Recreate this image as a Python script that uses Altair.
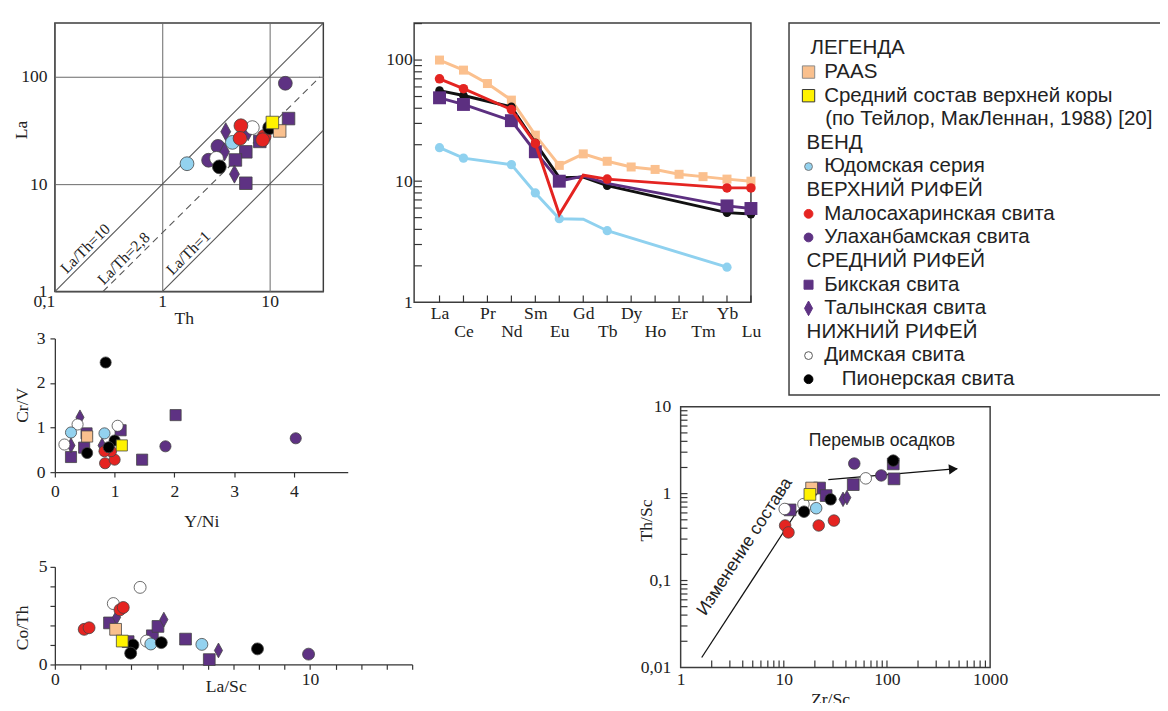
import altair as alt
import pandas as pd

SERIF = 'Liberation Serif'
SANS = 'Liberation Sans'
INK = '#222222'
FRAME = '#3c3c3c'
DIAMOND = 'M0,-1L0.55,0L0,1L-0.55,0Z'
NB = '\u00a0'

# ---------------- data ----------------
GROUP_ORDER = ['Ula', 'Bik', 'Tal', 'Dim', 'Yud', 'Mal', 'Pio', 'PAAS', 'UCC']
GROUP_FILL = {'PAAS': '#f9c08e', 'UCC': '#fff200', 'Yud': '#93d2ef', 'Mal': '#e52421',
              'Ula': '#5e3283', 'Bik': '#5e3283', 'Tal': '#5e3283', 'Dim': '#ffffff', 'Pio': '#000000'}
GROUP_SHAPE = {'PAAS': 'square', 'UCC': 'square', 'Yud': 'circle', 'Mal': 'circle',
               'Ula': 'circle', 'Bik': 'square', 'Tal': DIAMOND, 'Dim': 'circle', 'Pio': 'circle'}

# La vs Th
LATH_X = {'PAAS': [12.4], 'UCC': [10.6], 'Yud': [1.7, 4.5], 'Mal': [5.4, 5.3, 8.9, 8.6],
          'Ula': [14.0, 3.3, 2.7], 'Bik': [15.0, 8.1, 6.0, 4.8, 6.0], 'Tal': [6.3, 3.9, 3.8, 4.7],
          'Dim': [6.9, 3.2], 'Pio': [10.0, 3.4]}
LATH_Y = {'PAAS': [31.3], 'UCC': [37.5], 'Yud': [15.5, 24.5], 'Mal': [35.0, 26.7, 27.8, 25.9],
          'Ula': [87.0, 22.5, 16.7], 'Bik': [40.8, 25.0, 20.0, 16.8, 10.2], 'Tal': [30.8, 30.8, 20.0, 12.4],
          'Dim': [33.6, 17.4], 'Pio': [33.6, 14.5]}
RATIO_NAMES = ['La/Th=10', 'La/Th=2,8', 'La/Th=1']
RATIO_TH = [[0.1, 31.62], [0.28, 29.5], [1.0, 31.62]]
RATIO_LA = [[1.0, 316.2], [1.0, 100.0], [1.0, 31.62]]
RATIO_LABEL_TH = [0.22, 0.5, 2.0]
RATIO_LABEL_LA = [2.2, 1.78, 2.0]

# Cr/V vs Y/Ni
CRV_X = {'PAAS': [0.54], 'UCC': [1.12], 'Yud': [0.27, 0.83], 'Mal': [0.84, 1.0, 0.94, 0.83],
         'Ula': [4.03, 1.85], 'Bik': [2.02, 1.46, 1.1, 0.53, 0.27, 0.49], 'Tal': [0.42, 0.27, 0.79],
         'Dim': [1.05, 0.38, 0.16], 'Pio': [0.85, 1.0, 0.9, 0.54]}
CRV_Y = {'PAAS': [0.8], 'UCC': [0.6], 'Yud': [0.89, 0.87], 'Mal': [0.2, 0.28, 0.47, 0.47],
         'Ula': [0.76, 0.58], 'Bik': [1.28, 0.28, 0.94, 0.87, 0.34, 0.55], 'Tal': [1.23, 0.6, 0.6],
         'Dim': [1.04, 1.07, 0.62], 'Pio': [2.46, 0.71, 0.56, 0.43]}

# Co/Th vs La/Sc
COTH_X = {'PAAS': [2.38], 'UCC': [2.64], 'Yud': [3.76, 5.76], 'Mal': [1.15, 1.34, 2.55, 2.68],
          'Ula': [9.94], 'Bik': [2.14, 2.87, 3.82, 4.04, 5.12, 6.05], 'Tal': [2.42, 4.27, 6.41],
          'Dim': [2.29, 3.34, 3.59], 'Pio': [3.06, 2.97, 4.17, 7.94]}
COTH_Y = {'PAAS': [1.8], 'UCC': [1.2], 'Yud': [1.05, 1.03], 'Mal': [1.8, 1.88, 2.8, 2.92],
          'Ula': [0.53], 'Bik': [2.13, 1.17, 1.47, 1.95, 1.3, 0.25], 'Tal': [2.42, 2.3, 0.72],
          'Dim': [3.12, 3.95, 1.2], 'Pio': [1.0, 0.58, 1.12, 0.8]}

# Th/Sc vs Zr/Sc
THSC_X = {'PAAS': [18.6], 'UCC': [17.9], 'Yud': [20.6], 'Mal': [10.3, 11.1, 21.8, 30.6],
          'Ula': [48.2, 88.0], 'Bik': [11.5, 22.2, 25.7, 47.1, 117.0, 115.0], 'Tal': [37.5, 40.9],
          'Dim': [10.2, 15.5, 62.3], 'Pio': [15.7, 18.6, 28.4, 115.0]}
THSC_Y = {'PAAS': [1.16], 'UCC': [0.98], 'Yud': [0.68], 'Mal': [0.43, 0.358, 0.43, 0.49],
          'Ula': [2.22, 1.62], 'Bik': [0.65, 1.16, 0.95, 1.27, 1.48, 2.2], 'Tal': [0.86, 0.9],
          'Dim': [0.666, 0.757, 1.5], 'Pio': [0.62, 1.05, 0.86, 2.4]}
ARROW_ZR = [[1.6, 13.6], [27.0, 480.0]]
ARROW_TH = [[0.013, 0.64], [1.45, 1.94]]
HEAD_ZR = [440.0]
HEAD_TH = [1.92]
NOTE_TEXT = ['Перемыв осадков', 'Изменение состава']
NOTE_ZR = [89.5, 4.2]
NOTE_TH = [4.03, 0.245]

# REE spider diagram
REE = ['La', 'Ce', 'Pr', 'Nd', 'Sm', 'Eu', 'Gd', 'Tb', 'Dy', 'Ho', 'Er', 'Tm', 'Yb', 'Lu']
PAAS_REE = [100, 82.6, 64, 46.7, 24, 13.5, 16.8, 14.6, 13.1, 12.5, 11.4, 10.9, 10.4, 10.0]
NINE_EL = ['La', 'Ce', 'Nd', 'Sm', 'Eu', 'Gd', 'Tb', 'Yb', 'Lu']
MAL_REE = [70, 58, 39, 20.5, 5.3, 11.2, 10.4, 8.8, 8.8]
PIO_REE = [55.9, 51, 41, 20.7, 10.7, 10.8, 9.2, 5.5, 5.35]
BIK_REE = [48.8, 43, 31.6, 17.5, 10.0, 11.0, 9.6, 6.25, 5.95]
YUD_EL = ['La', 'Ce', 'Nd', 'Sm', 'Eu', 'Gd', 'Tb', 'Yb']
YUD_REE = [18.9, 15.5, 13.7, 8.0, 4.9, 4.85, 3.9, 1.95]
MAL_MK = ['La', 'Ce', 'Nd', 'Sm', 'Tb', 'Yb', 'Lu']
PIO_MK = ['La', 'Ce', 'Nd', 'Sm', 'Tb', 'Yb', 'Lu']
BIK_MK = ['La', 'Ce', 'Nd', 'Sm', 'Eu', 'Yb', 'Lu']
YUD_MK = ['La', 'Ce', 'Nd', 'Sm', 'Eu', 'Tb', 'Yb']

# legend
LEG_TEXT = ['ЛЕГЕНДА', 'PAAS', 'Средний состав верхней коры', '(по Тейлор, МакЛеннан, 1988) [20]',
            'ВЕНД', 'Юдомская серия', 'ВЕРХНИЙ РИФЕЙ', 'Малосахаринская свита', 'Улаханбамская свита',
            'СРЕДНИЙ РИФЕЙ', 'Бикская свита', 'Талынская свита', 'НИЖНИЙ РИФЕЙ', 'Димская свита',
            'Пионерская свита']
LEG_KIND = ['title', 'PAAS', 'UCC', 'cont', 'head', 'Yud', 'head', 'Mal', 'Ula', 'head', 'Bik', 'Tal',
            'head', 'Dim', 'Pio']

COMMA = "replace(format(datum.value, '~g'), '.', ',')"
AXF = 18


def frame_view():
    return alt.ViewBackground(stroke=FRAME, strokeWidth=1.5)


def no_frame():
    return alt.ViewBackground(stroke='transparent')


def ghost(px, py):
    # invisible 1px rule used only to fix the layout bounds of a panel
    return alt.Chart(pd.DataFrame({'v': [0]})).mark_rule(color='white', opacity=0, strokeWidth=1).encode(
        x=alt.value(px), x2=alt.value(px + 1), y=alt.value(py), y2=alt.value(py + 1))


def scatter(xd, yd, xs, ys, ax, ay, sizes):
    rows = []
    for g in GROUP_ORDER:
        shape = GROUP_SHAPE[g]
        kind = 'diamond' if shape == DIAMOND else shape
        for x, y in zip(xd[g], yd[g]):
            rows.append({'x': x, 'y': y, 'fill': GROUP_FILL[g], 'shape': shape, 'size': sizes[kind]})
    df = pd.DataFrame(rows)
    return alt.Chart(df).mark_point(filled=True, opacity=1, stroke='#444444', strokeWidth=0.8).encode(
        x=alt.X('x:Q', scale=xs, axis=ax),
        y=alt.Y('y:Q', scale=ys, axis=ay),
        fill=alt.Fill('fill:N', scale=None),
        shape=alt.Shape('shape:N', scale=None),
        size=alt.Size('size:Q', scale=None),
    )


def log_minors(decades):
    out = []
    for d in decades:
        out += [d * k for k in range(2, 10)]
    return out


def spacer(w, h, gx=None, gy=None):
    base = alt.Chart(pd.DataFrame({'v': [0]})).mark_point(opacity=0).encode(x=alt.value(0), y=alt.value(0))
    if gx is not None:
        return alt.layer(base, ghost(gx, gy)).properties(width=w, height=h, view=no_frame())
    return base.properties(width=w, height=h, view=no_frame())


# ---------------- panel 1: La vs Th ----------------
W1, H1 = 275, 275
xs1 = alt.Scale(type='log', domain=[0.1, 31.62], nice=False)
ys1 = alt.Scale(type='log', domain=[1, 316.2], nice=False)
ax1x = alt.Axis(values=[0.1, 1, 10], grid=True, gridColor='#666666', gridWidth=1, ticks=False, tickSize=0,
                domain=False, labelPadding=1, labelOverlap=False, labelFlush=False,
                labelExpr="datum.value < 0.5 ? '0,1" + NB * 2 + "' : " + COMMA,
                labelAlign={'condition': {'test': 'datum.value < 0.5', 'value': 'right'}, 'value': 'center'},
                title='Th', titleX=132, titleY=28, titleBaseline='middle', titleAlign='center')
ax1y = alt.Axis(values=[1, 10, 100], grid=True, gridColor='#666666', gridWidth=1, ticks=False, tickSize=0,
                domain=False, labelPadding=8, labelOverlap=False, labelExpr=COMMA,
                title='La', titleX=-34, titleY=109, titleAngle=270, titleBaseline='middle', titleAlign='center')
rat_rows = []
for i, name in enumerate(RATIO_NAMES):
    for x, y in zip(RATIO_TH[i], RATIO_LA[i]):
        rat_rows.append({'x': x, 'y': y, 'id': name})
rat_df = pd.DataFrame(rat_rows)
solid = alt.Chart(rat_df).transform_filter("datum.id != 'La/Th=2,8'").mark_line(
    color='#555555', strokeWidth=1.1).encode(
    x=alt.X('x:Q', scale=xs1, axis=ax1x), y=alt.Y('y:Q', scale=ys1, axis=ax1y), detail='id:N')
dashed = alt.Chart(rat_df).transform_filter("datum.id == 'La/Th=2,8'").mark_line(
    color='#555555', strokeWidth=1.1, strokeDash=[7, 5]).encode(
    x=alt.X('x:Q', scale=xs1, axis=ax1x), y=alt.Y('y:Q', scale=ys1, axis=ax1y))
rat_lab = alt.Chart(pd.DataFrame({'x': RATIO_LABEL_TH, 'y': RATIO_LABEL_LA, 't': RATIO_NAMES})).mark_text(
    font=SERIF, fontSize=16, angle=315, baseline='bottom', align='center', color=INK, dy=-1).encode(
    x=alt.X('x:Q', scale=xs1, axis=ax1x), y=alt.Y('y:Q', scale=ys1, axis=ax1y), text='t:N')
p1 = alt.layer(
    solid, dashed, rat_lab,
    scatter(LATH_X, LATH_Y, xs1, ys1, ax1x, ax1y, {'circle': 200, 'square': 165, 'diamond': 340}),
    ghost(-47, -37),
).properties(width=W1, height=H1, view=frame_view())

# ---------------- panel 4: Cr/V vs Y/Ni ----------------
W4, H4 = 300, 137
xs4 = alt.Scale(domain=[0, 4.9], nice=False, zero=False)
ys4 = alt.Scale(domain=[0, 3], nice=False)
ax4x = alt.Axis(values=[0, 1, 2, 3, 4], grid=False, tickSize=5, labelPadding=6, labelOverlap=False, labelFlush=False,
                title='Y/Ni', titleX=150, titleY=51, titleBaseline='middle', titleAlign='center')
ax4y = alt.Axis(values=[0, 1, 2, 3], grid=False, tickSize=5, labelPadding=5, labelOverlap=False,
                title='Cr/V', titleX=-33, titleY=68, titleAngle=270, titleBaseline='middle', titleAlign='center')
p4 = scatter(CRV_X, CRV_Y, xs4, ys4, ax4x, ax4y, {'circle': 130, 'square': 130, 'diamond': 230}).properties(
    width=W4, height=H4, view=no_frame())

# ---------------- panel 5: Co/Th vs La/Sc ----------------
W5, H5 = 366, 100
xs5 = alt.Scale(domain=[0, 14], nice=False, zero=False)
ys5 = alt.Scale(domain=[0, 5], nice=False)
ax5x = alt.Axis(values=list(range(15)), grid=False, tickSize=5, labelPadding=2, labelOverlap=False, labelFlush=False,
                labelExpr="datum.value == 0 || datum.value == 10 ? datum.label : ''",
                title='La/Sc', titleX=175, titleY=23, titleBaseline='middle', titleAlign='center')
ax5y = alt.Axis(values=[0, 1, 2, 3, 4, 5], grid=False, tickSize=5, labelPadding=3, labelOverlap=False,
                labelExpr="datum.value == 0 || datum.value == 5 ? datum.label : ''",
                title='Co/Th', titleX=-33, titleY=62, titleAngle=270, titleBaseline='middle', titleAlign='center')
p5 = scatter(COTH_X, COTH_Y, xs5, ys5, ax5x, ax5y, {'circle': 150, 'square': 145, 'diamond': 230}).properties(
    width=W5, height=H5, view=no_frame())

# ---------------- panel 2: REE ----------------
W2, H2 = 345, 286
xs2 = alt.Scale(domain=[-1.06, 13], nice=False, zero=False)
ys2 = alt.Scale(type='log', domain=[1, 202], nice=False)
ree_arr = '[' + ','.join("'" + e + "'" for e in REE) + ']'
ree_expr = 'datum.value % 2 == 0 ? ' + ree_arr + '[datum.value] : [\'\', ' + ree_arr + '[datum.value]]'
ax2x = alt.Axis(values=list(range(len(REE))), grid=False, ticks=False, tickSize=0, domain=False,
                labelPadding=3, labelOverlap=False, labelFlush=False, labelLineHeight=18, labelExpr=ree_expr,
                title=None)
ax2y = alt.Axis(values=[1, 10, 100], grid=False, ticks=False, tickSize=0, domain=False, labelPadding=2,
                labelOverlap=False, labelExpr=COMMA, title=None)
ree_xt = alt.Chart(pd.DataFrame({'x': list(range(len(REE)))})).mark_rule(color='#333333', strokeWidth=1.2).encode(
    x=alt.X('x:Q', scale=xs2, axis=ax2x), y=alt.value(H2), y2=alt.value(H2 - 7))
ree_yt = alt.Chart(pd.DataFrame({'y': log_minors([1, 10]) + [10, 100, 200]})).mark_rule(
    color='#333333', strokeWidth=1.2).encode(
    y=alt.Y('y:Q', scale=ys2, axis=ax2y), x=alt.value(0), x2=alt.value(8))
ree_series = [
    ('PAAS', REE, PAAS_REE, REE, '#fbc08e', 'square', 85),
    ('Yud', YUD_EL, YUD_REE, YUD_MK, '#8fd1ef', 'circle', 90),
    ('Pio', NINE_EL, PIO_REE, PIO_MK, '#111111', 'circle', 80),
    ('Bik', NINE_EL, BIK_REE, BIK_MK, '#5c2f80', 'square', 175),
    ('Mal', NINE_EL, MAL_REE, MAL_MK, '#e42421', 'circle', 95),
]
ree_layers = [ree_xt, ree_yt]
for name, els, vals, mk, col, shp, sz in ree_series:
    df = pd.DataFrame({'x': [REE.index(e) for e in els], 'y': vals, 'mk': [e in mk for e in els]})
    ree_layers.append(alt.Chart(df).mark_line(color=col, strokeWidth=3).encode(
        x=alt.X('x:Q', scale=xs2, axis=ax2x), y=alt.Y('y:Q', scale=ys2, axis=ax2y)))
    ree_layers.append(alt.Chart(df).transform_filter('datum.mk').mark_point(
        filled=True, opacity=1, color=col, shape=shp, size=sz).encode(
        x=alt.X('x:Q', scale=xs2, axis=ax2x), y=alt.Y('y:Q', scale=ys2, axis=ax2y)))
ree_layers.append(ghost(-40, -30))
p2 = alt.layer(*ree_layers).properties(width=W2, height=H2, view=frame_view())

# ---------------- panel 3: legend ----------------
W3, H3 = 387, 381
LEG_TX = {'title': 22, 'head': 18, 'cont': 37, 'Pio': 54}
LEG_MARK = {'PAAS': ('#f9c08e', 'square', 160, '#888888'), 'UCC': ('#fff200', 'square', 160, '#333333'),
            'Yud': ('#93d2ef', 'circle', 64, '#777777'), 'Mal': ('#e52421', 'circle', 81, '#e52421'),
            'Ula': ('#5e3283', 'circle', 81, '#5e3283'), 'Bik': ('#5e3283', 'square', 85, '#5e3283'),
            'Tal': ('#5e3283', DIAMOND, 225, '#5e3283'), 'Dim': ('#ffffff', 'circle', 64, '#555555'),
            'Pio': ('#000000', 'circle', 81, '#000000')}
leg_rows = []
for i, (t, k) in enumerate(zip(LEG_TEXT, LEG_KIND)):
    leg_rows.append({'row': i, 'label': t, 'tx': LEG_TX.get(k, 36)})
leg_df = pd.DataFrame(leg_rows)
mk_rows = []
for i, k in enumerate(LEG_KIND):
    if k in LEG_MARK:
        f, s, sz, st = LEG_MARK[k]
        mk_rows.append({'row': i, 'tx': 20, 'fill': f, 'shape': s, 'size': sz, 'stroke': st})
mk_df = pd.DataFrame(mk_rows)
xs3 = alt.Scale(domain=[0, W3], nice=False, zero=False)
ys3 = alt.Scale(domain=[-1.074, 14.67], reverse=True, nice=False, zero=False)
leg_text = alt.Chart(leg_df).mark_text(align='left', baseline='middle', font=SANS, fontSize=21, color=INK).encode(
    x=alt.X('tx:Q', scale=xs3, axis=None), y=alt.Y('row:Q', scale=ys3, axis=None), text='label:N')
leg_mark = alt.Chart(mk_df).mark_point(filled=True, opacity=1, strokeWidth=1).encode(
    x=alt.X('tx:Q', scale=xs3, axis=None), y=alt.Y('row:Q', scale=ys3, axis=None),
    fill=alt.Fill('fill:N', scale=None), shape=alt.Shape('shape:N', scale=None),
    size=alt.Size('size:Q', scale=None), stroke=alt.Stroke('stroke:N', scale=None))
p3 = alt.layer(leg_text, leg_mark).properties(width=W3, height=H3, view=frame_view())

# ---------------- panel 6: Th/Sc vs Zr/Sc ----------------
W6, H6 = 317, 267
xs6 = alt.Scale(type='log', domain=[1, 1000], nice=False)
ys6 = alt.Scale(type='log', domain=[0.01, 10], nice=False)
ax6x = alt.Axis(values=[1, 10, 100, 1000], grid=False, ticks=False, tickSize=0, domain=False, labelPadding=3,
                labelOverlap=False, labelFlush=False, labelExpr=COMMA,
                title='Zr/Sc', titleX=153, titleY=33, titleBaseline='middle', titleAlign='center')
ax6y = alt.Axis(values=[0.01, 0.1, 1, 10], grid=False, ticks=False, tickSize=0, domain=False, labelPadding=10,
                labelOverlap=False, labelExpr=COMMA,
                title='Th/Sc', titleX=-35, titleY=116, titleAngle=270, titleBaseline='middle', titleAlign='center')
t6x = alt.Chart(pd.DataFrame({'x': log_minors([1, 10, 100]) + [10, 100]})).mark_rule(
    color='#333333', strokeWidth=1.2).encode(
    x=alt.X('x:Q', scale=xs6, axis=ax6x), y=alt.value(H6), y2=alt.value(H6 - 7))
t6y = alt.Chart(pd.DataFrame({'y': log_minors([0.01, 0.1, 1]) + [0.1, 1]})).mark_rule(
    color='#333333', strokeWidth=1.2).encode(
    y=alt.Y('y:Q', scale=ys6, axis=ax6y), x=alt.value(0), x2=alt.value(7))
arr_rows = []
for i in range(len(ARROW_ZR)):
    for x, y in zip(ARROW_ZR[i], ARROW_TH[i]):
        arr_rows.append({'x': x, 'y': y, 'id': i})
arrows = alt.Chart(pd.DataFrame(arr_rows)).mark_line(color='#111111', strokeWidth=1.3).encode(
    x=alt.X('x:Q', scale=xs6, axis=ax6x), y=alt.Y('y:Q', scale=ys6, axis=ax6y), detail='id:N')
head = alt.Chart(pd.DataFrame({'x': HEAD_ZR, 'y': HEAD_TH})).mark_point(
    shape='triangle-right', filled=True, color='#111111', size=110, angle=355, opacity=1).encode(
    x=alt.X('x:Q', scale=xs6, axis=ax6x), y=alt.Y('y:Q', scale=ys6, axis=ax6y))
notes_df = pd.DataFrame({'x': NOTE_ZR, 'y': NOTE_TH, 't': NOTE_TEXT})
note1 = alt.Chart(notes_df).transform_filter("datum.t == 'Перемыв осадков'").mark_text(
    font=SANS, fontSize=18, color=INK, align='center', baseline='middle').encode(
    x=alt.X('x:Q', scale=xs6, axis=ax6x), y=alt.Y('y:Q', scale=ys6, axis=ax6y), text='t:N')
note2 = alt.Chart(notes_df).transform_filter("datum.t == 'Изменение состава'").mark_text(
    font=SANS, fontSize=18, color=INK, align='center', baseline='middle', angle=303).encode(
    x=alt.X('x:Q', scale=xs6, axis=ax6x), y=alt.Y('y:Q', scale=ys6, axis=ax6y), text='t:N')
p6 = alt.layer(
    t6x, t6y, arrows, head, note1, note2,
    scatter(THSC_X, THSC_Y, xs6, ys6, ax6x, ax6y, {'circle': 140, 'square': 145, 'diamond': 220}),
).properties(width=W6, height=H6, view=frame_view())

# ---------------- layout ----------------
col_a = alt.vconcat(p1, p4, spacer(10, 1), p5, spacing=48, bounds='flush')
row_top = alt.hconcat(p2, p3, spacing=39, bounds='flush')
row_bot = alt.hconcat(spacer(273, 10, 0, -20), p6, spacing=0, bounds='flush')
col_b = alt.vconcat(row_top, row_bot, spacing=-10, bounds='full')

chart = alt.hconcat(col_a, col_b, spacing=-67, bounds='full').properties(
    padding={'left': 0, 'top': -31, 'right': -8, 'bottom': -15}
).configure_view(stroke='transparent').configure_axis(
    labelFont=SERIF, titleFont=SERIF, labelFontSize=AXF, titleFontSize=AXF, titleFontWeight='normal',
    labelColor=INK, titleColor=INK, domainColor='#333333', tickColor='#333333', domainWidth=1.3, tickWidth=1.2
)

chart.save('out.html', embed_options={'renderer': 'svg', 'actions': False})
